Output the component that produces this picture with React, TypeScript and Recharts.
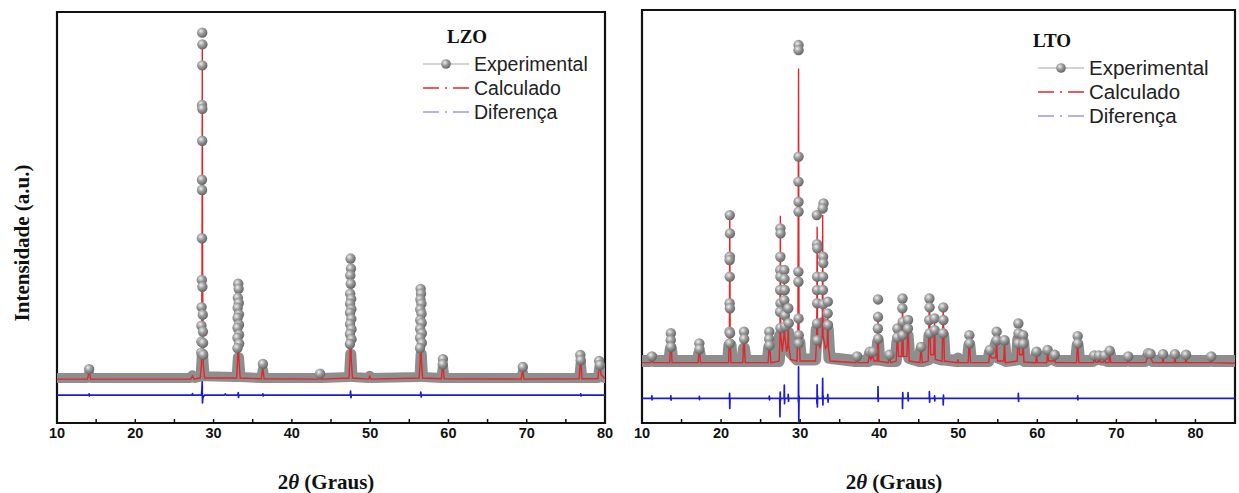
import { ComposedChart, Line, Scatter, XAxis, YAxis, ReferenceArea } from 'recharts';

type Pt = [number, number];

// ---- LZO (left panel) ----
const lzoBand: Pt[] = [
  [10, 0], [13.8, 0], [14.1, 1.2], [14.4, 0], [27.0, 0], [27.3, 0.8], [27.6, 0], [28.35, 0.5], [28.5, 7],
  [28.65, 7], [28.85, 0.5], [32.95, 0.3], [33.1, 6], [33.25, 6], [33.45, 0.3], [36.1, 0], [36.3, 2.5], [36.5, 0],
  [43.4, 0], [43.6, 1], [43.8, 0], [47.3, 0.3], [47.45, 7], [47.6, 7], [47.75, 0.3], [49.8, 0], [49.95, 0.7],
  [50.1, 0], [56.3, 0.3], [56.45, 7], [56.6, 7], [56.75, 0.3], [59.1, 0], [59.3, 3.5], [59.5, 0], [69.3, 0],
  [69.5, 1.8], [69.7, 0], [76.7, 0], [76.9, 4.5], [77.1, 0], [79.1, 0], [79.3, 3.5], [79.5, 0.5], [80, 0],
];

const lzoExp: Pt[] = [
  [28.55, 100.3], [28.57, 96.9], [28.56, 90.8], [28.53, 79.3], [28.56, 78.2], [28.55, 68.9], [28.52, 57.6],
  [28.53, 54.6], [28.52, 40.6], [28.5, 28.5], [28.57, 26.5], [28.47, 20.6], [28.62, 18.4], [28.45, 15.2],
  [28.64, 13.5], [28.44, 10.6], [28.66, 10.2], [28.43, 7.4], [28.67, 6.8],
  [33.15, 27.4], [33.2, 25.9], [33.1, 23.3], [33.22, 21.8], [33.08, 20.4], [33.24, 18.5], [33.07, 17.5],
  [33.25, 15.5], [33.06, 14.6], [33.26, 12.6], [33.05, 11.7], [33.27, 10], [33.05, 8.7],
  [14.1, 2.6], [36.3, 4.1], [43.6, 1.3],
  [47.5, 34.7], [47.55, 31.8], [47.47, 29.8], [47.52, 27.4], [47.45, 24.5], [47.58, 23], [47.44, 21.6],
  [47.6, 20], [47.43, 19], [47.6, 17.2], [47.43, 15.7], [47.62, 14.2], [47.42, 12.8], [47.62, 11.3], [47.42, 9.9],
  [56.45, 25.9], [56.5, 24.5], [56.42, 22.8], [56.55, 21.6], [56.4, 19.9], [56.57, 18.7], [56.4, 16.8],
  [56.58, 16], [56.38, 14.3], [56.6, 13], [56.38, 11.7], [56.6, 10.2], [56.37, 8.7],
  [59.3, 5.5], [59.28, 4], [69.5, 3.2], [76.85, 6.7], [76.9, 5.2], [79.25, 5], [79.35, 3.8],
];

const lzoCalc: Pt[] = [
  [10, -0.3], [13.9, -0.3], [14.1, 2], [14.3, -0.3], [27.1, -0.3], [27.3, 0.6], [27.5, -0.3], [28.3, 0],
  [28.45, 4], [28.52, 30], [28.56, 96.5], [28.6, 30], [28.68, 4], [28.85, 0], [32.95, 0], [33.08, 6],
  [33.15, 25.5], [33.22, 6], [33.4, 0], [36.1, -0.2], [36.28, 3.2], [36.45, -0.2], [43.45, -0.3], [43.6, 1],
  [43.75, -0.3], [47.3, 0], [47.43, 6], [47.5, 33.5], [47.57, 6], [47.75, 0], [49.8, -0.3], [49.95, 0.5],
  [50.1, -0.3], [56.25, 0], [56.4, 5], [56.47, 23.3], [56.55, 5], [56.7, 0], [59.1, -0.2], [59.28, 4.8],
  [59.45, -0.2], [69.3, -0.3], [69.48, 2.5], [69.65, -0.3], [76.7, -0.2], [76.88, 6.2], [77.05, -0.2],
  [79.1, -0.2], [79.28, 4.5], [79.5, 1], [80, -0.2],
];

const lzoDiff: Pt[] = [
  [10, -4.95], [14.08, -4.95], [14.1, -4.6], [14.13, -5.2], [14.16, -4.95], [27.28, -4.95], [27.3, -4.5],
  [27.33, -4.95], [28.45, -4.95], [28.5, -3.6], [28.55, -1.1], [28.58, -7.2], [28.62, -5.9], [28.7, -5.4],
  [28.85, -4.95], [31.4, -4.95], [31.5, -4.6], [31.6, -4.95], [33.12, -4.95], [33.15, -4.2], [33.19, -5.6],
  [33.23, -4.95], [36.28, -4.95], [36.3, -4.6], [36.33, -5.2], [36.36, -4.95], [47.45, -4.95], [47.5, -3.8],
  [47.55, -5.7], [47.6, -4.95], [56.43, -4.95], [56.47, -4.1], [56.52, -5.5], [56.57, -4.95], [76.88, -4.95],
  [76.9, -4.6], [76.93, -5.2], [76.96, -4.95], [80, -4.95],
];

// ---- LTO (right panel) ----
const ltoBand: Pt[] = [
  [10, 0], [11.0, 0], [11.25, 1], [11.5, 0], [13.45, 0], [13.65, 4], [13.85, 0], [17.05, 0], [17.25, 2.5],
  [17.45, 0], [20.9, 0], [21.05, 5], [21.2, 5], [21.35, 0], [22.7, 0], [22.9, 4], [23.1, 0], [25.9, 0],
  [26.1, 4.5], [26.3, 0], [27.3, 0], [27.45, 8], [27.6, 6], [27.95, 9], [28.1, 7], [28.5, 9], [28.7, 3],
  [29.6, 0.5], [29.75, 6], [29.9, 6], [30.1, 0.5], [31.9, 0.5], [32.1, 10], [32.3, 9], [32.8, 12], [33.0, 10],
  [33.5, 10], [33.7, 1], [37.0, 0], [37.2, 1], [37.4, 0], [38.6, 0], [38.8, 2], [39.2, 2], [39.4, 0.5],
  [39.7, 0.5], [39.85, 6], [40.0, 0.5], [41.1, 0], [41.3, 1.2], [41.5, 0], [42.1, 0], [42.3, 6], [42.5, 3],
  [42.9, 7], [43.1, 3], [43.6, 8], [43.8, 1], [45.1, 0], [45.3, 3.5], [45.5, 0], [46.2, 0.5], [46.35, 8],
  [46.6, 4], [47.0, 8], [47.2, 1], [47.9, 0.5], [48.1, 8], [48.3, 0.5], [49.8, 0], [49.95, 0.8], [50.1, 0],
  [51.2, 0], [51.4, 5], [51.6, 0], [53.8, 0], [54.0, 2.8], [54.3, 1.5], [54.85, 6], [55.1, 1], [55.7, 0.5],
  [55.85, 5], [56.0, 0], [57.4, 0.5], [57.6, 7], [57.9, 3], [58.2, 6], [58.4, 0], [59.7, 0], [59.9, 2],
  [60.1, 0], [61.1, 0], [61.3, 2.5], [61.5, 0.5], [62.1, 1.2], [62.4, 0], [64.9, 0], [65.1, 5], [65.3, 0],
  [67.0, 0], [67.2, 1.2], [67.5, 0.5], [67.8, 1.2], [68.1, 0.5], [68.5, 1.2], [68.8, 0], [69.0, 0],
  [69.15, 2.3], [69.35, 0], [71.3, 0], [71.5, 0.8], [71.7, 0], [73.6, 0], [74.1, 1.8], [74.6, 0], [75.7, 0],
  [75.9, 1.3], [76.1, 0], [77.2, 0], [77.4, 1.3], [77.6, 0], [78.6, 0], [78.8, 1.2], [79.0, 0], [81.8, 0],
  [82.0, 0.8], [82.2, 0], [85, 0],
];

const ltoExp: Pt[] = [
  [13.65, 8.8], [13.63, 6.6], [13.67, 4.5], [17.25, 5.6], [17.27, 3.8],
  [21.1, 46.2], [21.12, 40.4], [21.1, 33], [21.08, 32], [21.1, 26.7], [21.08, 18.3], [21.12, 16.7],
  [21.07, 9.3], [21.13, 8.8], [21.1, 5.6],
  [22.9, 9.3], [22.92, 7], [26.1, 9.3], [26.08, 7], [26.12, 5],
  [27.5, 42], [27.52, 40.4], [27.5, 33], [27.48, 28.8], [27.5, 26.7], [27.47, 22.5], [27.52, 18.3],
  [27.46, 15.6], [27.5, 10.5],
  [28.0, 28.8], [28.02, 26], [28.05, 22.5], [28.0, 19.3], [28.07, 14.5], [28.1, 11], [28.5, 16.7], [28.55, 12],
  [29.8, 100], [29.8, 98.4], [29.8, 64.7], [29.79, 56.8], [29.8, 50.4], [29.8, 47.3], [29.78, 28.3],
  [29.78, 25.1], [29.8, 13.5], [29.82, 8.2], [29.8, 5.6],
  [32.1, 46.2], [32.15, 37], [32.17, 35.7], [32.15, 26.7], [32.13, 22.5], [32.15, 18.3], [32.13, 11.9],
  [32.15, 6.6],
  [32.95, 49.9], [32.85, 48.3], [32.9, 33], [32.92, 31], [32.9, 26.7], [32.88, 22.5], [32.9, 18],
  [33.5, 18.8], [33.48, 15.1], [33.52, 11.4],
  [39.85, 19.5], [39.85, 14], [39.83, 10.3], [39.87, 7.1], [42.3, 10.3], [42.28, 7.5],
  [42.95, 19.8], [42.93, 16.7], [42.97, 12.4], [42.95, 8.2], [43.65, 13], [43.63, 10.3], [45.3, 4.5],
  [46.35, 19.8], [46.37, 17], [46.33, 13], [46.38, 8.8], [47.0, 13.5], [47.02, 9.8],
  [48.1, 17], [48.12, 13], [48.08, 8.8], [51.4, 8.2], [51.42, 5.6], [54.0, 3.5], [54.85, 9.3], [54.87, 6.6],
  [55.85, 6.6], [57.6, 11.9], [57.62, 8.8], [57.58, 5.6], [58.2, 8.2], [58.22, 5.5], [59.9, 3], [61.3, 3.5],
  [62.2, 2], [65.1, 7.9], [65.12, 5.6], [67.2, 1.8], [67.8, 1.8], [68.5, 1.8], [69.15, 3.3], [71.5, 1.5],
  [74.0, 2.5], [74.3, 2.3], [75.9, 2.2], [77.4, 2.2], [78.8, 2], [82.0, 1.5], [11.25, 1.5], [37.2, 1.5],
  [38.8, 3], [39.2, 3], [41.3, 2],
];

const ltoCalc: Pt[] = [
  [10, -0.5], [11.1, -0.5], [11.25, 0.6], [11.4, -0.5], [13.5, -0.5], [13.65, 7.7], [13.8, -0.5],
  [17.1, -0.5], [17.25, 5], [17.4, -0.5], [20.95, -0.5], [21.05, 8], [21.1, 46], [21.15, 8], [21.25, -0.5],
  [22.75, -0.5], [22.9, 8.5], [23.05, -0.5], [25.95, -0.5], [26.12, 6], [26.3, -0.5], [27.35, 0], [27.45, 8],
  [27.5, 46], [27.55, 8], [27.75, 3], [27.95, 8], [28.0, 30], [28.05, 8], [28.3, 3], [28.45, 5], [28.5, 14],
  [28.55, 5], [28.8, 0.5], [29.6, 0], [29.72, 10], [29.8, 92.6], [29.86, 10], [30.0, 0], [31.95, 0],
  [32.1, 8], [32.15, 42.5], [32.2, 8], [32.5, 4], [32.8, 8], [32.85, 46.2], [32.9, 8], [33.2, 4], [33.42, 5],
  [33.5, 14], [33.58, 4], [33.8, 0], [37.05, -0.5], [37.2, 0.8], [37.35, -0.5], [38.6, -0.5], [38.75, 2],
  [38.95, 0.5], [39.15, 2], [39.35, 0], [39.75, 0], [39.85, 15.6], [39.95, 0], [41.15, -0.5], [41.3, 1.5],
  [41.45, -0.5], [42.15, 0], [42.3, 9], [42.45, 1.5], [42.85, 1.5], [42.95, 19.8], [43.05, 1.5], [43.5, 1.5],
  [43.65, 12.5], [43.8, 0], [45.15, -0.5], [45.3, 4.5], [45.45, -0.5], [46.2, 0], [46.35, 20.3], [46.5, 2],
  [46.9, 2], [47.0, 13.5], [47.1, 0.5], [47.95, 0], [48.1, 16.7], [48.25, 0], [49.85, -0.5], [49.95, 0.5],
  [50.05, -0.5], [51.25, -0.5], [51.4, 7], [51.55, -0.5], [53.85, -0.5], [54.0, 2.5], [54.2, 1], [54.75, 1],
  [54.85, 8.2], [54.95, 0], [55.75, 0], [55.85, 6], [55.95, -0.5], [57.45, 0], [57.6, 10.3], [57.75, 2],
  [58.1, 2], [58.2, 7], [58.3, -0.3], [59.8, -0.5], [59.9, 1.8], [60.0, -0.5], [61.2, -0.5], [61.3, 2.5],
  [61.45, 0], [62.1, 0], [62.2, 1.5], [62.3, -0.5], [64.95, -0.5], [65.1, 6], [65.25, -0.5], [67.1, -0.5],
  [67.2, 1.2], [67.35, -0.3], [67.7, -0.3], [67.8, 1.2], [67.95, -0.3], [68.4, -0.3], [68.5, 1.2],
  [68.65, -0.5], [69.05, -0.5], [69.15, 2.5], [69.3, -0.5], [71.4, -0.5], [71.5, 0.6], [71.6, -0.5],
  [73.7, -0.5], [74.0, 1.6], [74.3, 1.2], [74.6, -0.5], [75.8, -0.5], [75.9, 1], [76.0, -0.5], [77.3, -0.5],
  [77.4, 1], [77.5, -0.5], [78.7, -0.5], [78.8, 0.8], [78.9, -0.5], [81.9, -0.5], [82.0, 0.5], [82.1, -0.5],
  [85, -0.7],
];

const ltoDiff: Pt[] = [
  [10, -11.8], [11.23, -11.8], [11.25, -11], [11.28, -12.3], [11.31, -11.8], [13.63, -11.8], [13.65, -11],
  [13.68, -12.4], [13.71, -11.8], [17.23, -11.8], [17.25, -11.2], [17.28, -12.2], [17.31, -11.8],
  [21.05, -11.8], [21.08, -10.2], [21.1, -15], [21.13, -11.8], [26.08, -11.8], [26.1, -11.1], [26.13, -12.3],
  [26.16, -11.8], [27.42, -11.8], [27.45, -17.6], [27.48, -9.8], [27.52, -12.5], [27.55, -11.8],
  [27.97, -11.8], [28.0, -7.6], [28.03, -13.5], [28.06, -11.8], [28.47, -11.8], [28.5, -10.5], [28.53, -12.8],
  [28.56, -11.8], [29.76, -11.8], [29.78, -13], [29.8, -1.8], [29.83, -19.6], [29.86, -11], [29.9, -11.8],
  [32.1, -11.8], [32.13, -13.5], [32.15, -7.5], [32.18, -14.5], [32.21, -11], [32.24, -11.8], [32.82, -11.8],
  [32.85, -5.5], [32.88, -13.9], [32.91, -11], [32.94, -11.8], [33.47, -11.8], [33.5, -10.5], [33.53, -13],
  [33.56, -11.8], [39.83, -11.8], [39.85, -8.1], [39.88, -12.8], [39.91, -11.8], [42.93, -11.8],
  [42.95, -15], [42.98, -10], [43.01, -11.8], [43.63, -11.8], [43.65, -10], [43.68, -12.6], [43.71, -11.8],
  [46.33, -11.8], [46.35, -9.7], [46.38, -13], [46.41, -11.8], [46.98, -11.8], [47.0, -11], [47.03, -12.6],
  [47.06, -11.8], [48.08, -11.8], [48.1, -13.9], [48.13, -10.8], [48.16, -11.8], [57.58, -11.8],
  [57.6, -10.2], [57.63, -12.8], [57.66, -11.8], [65.08, -11.8], [65.1, -11], [65.13, -12.3], [65.16, -11.8],
  [85, -11.8],
];

const lzoTicks = [10, 15, 20, 25, 30, 35, 40, 45, 50, 55, 60, 65, 70, 75, 80];
const ltoTicks = [10, 15, 20, 25, 30, 35, 40, 45, 50, 55, 60, 65, 70, 75, 80];

const legendLabels = ['Experimental', 'Calculado', 'Diferença'];

const toPts = (a: Pt[]) => a.map(([x, y]) => ({ x, y }));

const Sphere = (p: any) => <circle cx={p.cx} cy={p.cy} r={5.2} fill="url(#sph)" />;

const AxisTick = (p: any) => {
  const { x, y, payload } = p;
  const v = payload.value;
  return (
    <g>
      <line x1={x} x2={x} y1={y} y2={y - 4} stroke="#111" strokeWidth={1.5} />
      {v % 10 === 0 && (
        <text x={x} y={y + 15} textAnchor="middle" fontFamily="Liberation Sans, Arial, sans-serif"
          fontWeight="bold" fontSize={14.5} fill="#111">{v}</text>
      )}
    </g>
  );
};

type PanelProps = {
  left: number; width: number; margin: any; xMax: number; yDomain: [number, number]; ticks: number[];
  band: Pt[]; bandWidth: number; exp: Pt[]; calc: Pt[]; diff: Pt[];
};

const Panel = ({ left, width, margin, xMax, yDomain, ticks, band, bandWidth, exp, calc, diff }: PanelProps) => (
  <div style={{ position: 'absolute', left, top: 0 }}>
    <ComposedChart width={width} height={493} margin={margin}>
      <XAxis type="number" dataKey="x" domain={[10, xMax]} allowDataOverflow ticks={ticks} interval={0}
        height={30} axisLine={false} tickLine={false} tickSize={0} tickMargin={0} tick={<AxisTick />} />
      <YAxis hide type="number" dataKey="y" domain={yDomain} allowDataOverflow />
      <Line data={toPts(band)} dataKey="y" type="linear" stroke="#8e8e8e" strokeWidth={bandWidth}
        strokeLinejoin="round" strokeLinecap="round" dot={false} isAnimationActive={false} />
      <Scatter data={toPts(exp)} dataKey="y" shape={<Sphere />} isAnimationActive={false} />
      <Line data={toPts(calc)} dataKey="y" type="linear" stroke="#e3262b" strokeWidth={1.4}
        dot={false} isAnimationActive={false} />
      <Line data={toPts(diff)} dataKey="y" type="linear" stroke="#1c1cd8" strokeWidth={1.7}
        strokeLinejoin="round" dot={false} isAnimationActive={false} />
      <ReferenceArea x1={10} x2={xMax} y1={yDomain[0]} y2={yDomain[1]} fill="none" fillOpacity={0}
        stroke="#111" strokeWidth={2.2} />
    </ComposedChart>
  </div>
);

type LegendProps = { x: number; y: number; titleX: number; title: string; fontSize: number };

const LegendBox = ({ x, y, titleX, title, fontSize }: LegendProps) => (
  <g>
    <text x={titleX} y={y} fontFamily="Liberation Serif, Times New Roman, serif" fontWeight="bold"
      fontSize={19} fill="#111">{title}</text>
    {legendLabels.map((label, i) => {
      const cy = y + 21 + i * 24;
      return (
        <g key={label}>
          {i === 0 && (
            <g>
              <line x1={x} x2={x + 46} y1={cy} y2={cy} stroke="#c4c4c4" strokeWidth={1.5} />
              <circle cx={x + 23} cy={cy} r={4.8} fill="url(#sph)" />
            </g>
          )}
          {i > 0 && (
            <line x1={x} x2={x + 46} y1={cy} y2={cy} stroke={i === 1 ? '#e3262b' : '#9a9ae6'}
              strokeWidth={1.6} strokeDasharray="16 6 2 6 16" />
          )}
          <text x={x + 51} y={cy + 7} fontFamily="Liberation Sans, Arial, sans-serif" fontSize={fontSize}
            fill="#222">{label}</text>
        </g>
      );
    })}
  </g>
);

const XTitle = ({ cx }: { cx: number }) => (
  <text x={cx} y={489} textAnchor="middle" fontFamily="Liberation Serif, Times New Roman, serif"
    fontWeight="bold" fontSize={21} fill="#111">
    2<tspan fontStyle="italic">θ</tspan> (Graus)
  </text>
);

export default function App() {
  return (
    <div style={{ position: 'absolute', left: 0, top: 0, width: 1239, height: 493, background: '#fff' }}>
      <svg width={0} height={0} style={{ position: 'absolute' }}>
        <defs>
          <radialGradient id="sph" cx="0.38" cy="0.35" r="0.7">
            <stop offset="0" stopColor="#eeeeee" />
            <stop offset="0.45" stopColor="#9a9a9a" />
            <stop offset="1" stopColor="#5e5e5e" />
          </radialGradient>
        </defs>
      </svg>
      <Panel left={0} width={620} margin={{ top: 12, right: 15, bottom: 40, left: 57 }} xMax={80}
        yDomain={[-13.05, 106.3]} ticks={lzoTicks} band={lzoBand} bandWidth={10} exp={lzoExp} calc={lzoCalc}
        diff={lzoDiff} />
      <Panel left={620} width={619} margin={{ top: 10, right: 4, bottom: 40, left: 22 }} xMax={85}
        yDomain={[-19.6, 111.1]} ticks={ltoTicks} band={ltoBand} bandWidth={12} exp={ltoExp} calc={ltoCalc}
        diff={ltoDiff} />
      <svg width={1239} height={493} style={{ position: 'absolute', left: 0, top: 0, pointerEvents: 'none' }}>
        <LegendBox x={423} y={43} titleX={447} title="LZO" fontSize={19.5} />
        <LegendBox x={1038} y={47} titleX={1033} title="LTO" fontSize={20.5} />
        <XTitle cx={326} />
        <XTitle cx={894} />
        <text transform="translate(29,243) rotate(-90)" textAnchor="middle"
          fontFamily="Liberation Serif, Times New Roman, serif" fontWeight="bold" fontSize={21} fill="#111">
          Intensidade (a.u.)
        </text>
      </svg>
    </div>
  );
}
